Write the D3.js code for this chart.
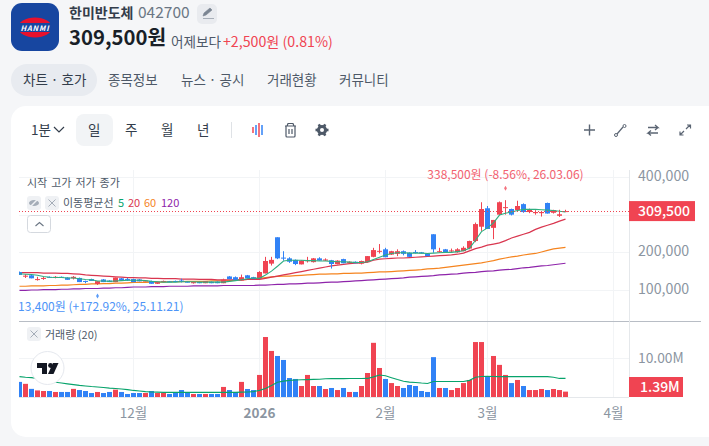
<!DOCTYPE html>
<html>
<head>
<meta charset="utf-8">
<script src="https://cdn.jsdelivr.net/npm/d3@7"></script>
<style>
  html, body { margin: 0; padding: 0; background: #f5f6f8; overflow: hidden; }
  text { font-family: "Noto Sans CJK KR", "Noto Sans", sans-serif; }
  .axis .domain, .axis line { display: none; }
</style>
</head>
<body>
<div id="svg-area"></div>
<script>
const width = 709;
const height = 446;

// trading days, the last ones are the empty room up to April
const dates = [
  '25.11.04','25.11.05','25.11.06','25.11.07','25.11.10','25.11.11','25.11.12','25.11.13','25.11.14','25.11.17',
  '25.11.18','25.11.19','25.11.20','25.11.21','25.11.24','25.11.25','25.11.26','25.11.27','25.11.28',
  '25.12.01','25.12.02','25.12.03','25.12.04','25.12.05','25.12.08','25.12.09','25.12.10','25.12.11','25.12.12',
  '25.12.15','25.12.16','25.12.17','25.12.18','25.12.19','25.12.22','25.12.23','25.12.24','25.12.26','25.12.29','25.12.30',
  '26.01.02','26.01.05','26.01.06','26.01.07','26.01.08','26.01.09','26.01.12','26.01.13','26.01.14','26.01.15','26.01.16',
  '26.01.19','26.01.20','26.01.21','26.01.22','26.01.23','26.01.26','26.01.27','26.01.28','26.01.29','26.01.30',
  '26.02.02','26.02.03','26.02.04','26.02.05','26.02.06','26.02.09','26.02.10','26.02.11','26.02.12','26.02.13',
  '26.02.19','26.02.20','26.02.23','26.02.24','26.02.25','26.02.26','26.02.27',
  '26.03.03','26.03.04','26.03.05','26.03.06','26.03.09','26.03.10','26.03.11','26.03.12','26.03.13',
  '26.03.16','26.03.17','26.03.18','26.03.19','26.03.20','26.03.23','26.03.24','26.03.25','26.03.26','26.03.27',
  '26.03.30','26.03.31','26.04.01'
];

// prices in thousand won
const opens = [147.7,137,139,128,131,135,133,135,133,131,132,124,129,116,128,125,121,131,129,129,
  128,124,124,116.5,122,123,124,125,122,118,121,118,122,122,118,136,134,125,139,134,
  129,144,170,240,186,184,180,168,177,174,184,178,179,169,182,172,175,170,174,188,
  202,208,194,196,203,199,201,200,196,248,201,208,203,200,203,210,230,268,317,265,
  300,319,315,312,328,307,304,304,331,305,297,308];
const highs = [149,142,140,135,135,136,137,136,134,137,133,125,130,124,129,126,133,132,132,130,
  129,126,125,122,125,124,125,130,123,121,122,124,123,123,130,137,136,141,140,135,
  150,188,188,240,203,187,181,179,188,185,187,184,180,179,183,176,176,178,190,212,
  222,212,204,208,205,200,206,201,197,248,212,209,210,211,216,231,279,333,323,286,
  335,338.5,316,337,330,316,312,308,332,313,313,313];
const lows = [140,132,131,125,127,133,131,132,127,128,121,118,124,113.4,121,121,121,125,124,121,
  123,123,116.5,116,121,121,121,120,120,117,118,118,118,118,118,129,127,125,131,129,
  129,144,165,182,178,172,166,168,173,173,178,177,157,168,171,171,171,168,173,187,
  197,187,193,190,192,188,197,197,190,199,199,200,199,199,203,208,227,257,262,235,
  299,300,298,309,305,304,300,295,303,303,294,307];
const closes = [140,138,131,129,132,134,135,133,127,135,121,123,124,123.5,121,121,133,125,125,121,
  123,125,116.5,122,124,121,122,122,120,121,118,124,118,118,127.5,129,127,134,131,129,
  147.7,177,180,184,184,175,169,178,179,184,178,181,169,178,171,175,171,177,190,206,
  204,187,203,203,196,188,199,197,190,208,203,200,205,208,212,230,275,315,262,286,
  333,320,300,323,307,315,307,307,303,312,301,309.5];

const ma5 = [143,142,141,139,136,134,133,133,132,132,130,128,127,124,124,123,124,125,126,126,
  126,125,123,122,121,121,121,122,122,122,121,121,121,121,121,123,125,127,130,132,
  131,140,150,163,177,179,179,179,178,178,177,177,176,175,175,174,173,173,175,181,
  187,193,197,199,199,198,198,198,197,198,199,200,200,202,204,211,232,255,265,278,
  299,304,307,311,314,314,314,313,312,311,309,307];
const ma20 = [146,146,146,146,145,145,145,144,144,143,142,140,139,138,137,136,135,134,133,133,
  132,132,131,131,130,130,130,129,129,129,128,128,128,127,127,127,127,127,128,128,
  128,131,134,137,140,143,146,149,152,155,158,161,164,166,168,170,171,172,174,179,
  182,183,184,185,185,186,187,188,189,190,191,192,193,195,198,204,210,214,219,222,
  225,231,238,243,248,253,261,267,272,277,283,288];
const ma60 = [110,110,111,111,111,112,112,113,113,114,115,115,116,116,117,117,118,118,119,120,
  120,120,121,121,121,122,122,122,123,123,123,123,124,124,124,125,126,127,128,130,
  131,133,135,136,137,137,138,139,140,141,142,142,143,143,144,144,145,145,146,147,
  148,148,149,150,151,152,153,154,156,157,158,160,162,164,166,168,170,172,175,178,
  182,185,188,190,193,195,197,201,205,209,211,213];
const ma120 = [99,99,100,100,101,101,101,102,102,103,103,104,104,104,105,105,106,106,107,108,
  108,108,109,109,109,110,110,110,110,111,111,111,111,111,112,112,112,112,112,112,
  113,113,114,115,115,116,116,117,118,118,119,120,121,121,122,123,124,125,126,127,
  128,129,130,131,132,134,135,136,137,138,140,141,142,143,145,146,147,149,150,151,
  153,154,155,157,159,160,162,164,165,167,169,171];

// traded volume in millions of shares
const volumes = [3.9,3.4,2.1,1.7,1.55,1.55,1.3,1.3,1.3,2.1,1.8,1.55,1.03,1.3,1.03,1.3,1.9,1.3,0.78,1.03,
  1.03,1.03,1.55,1.03,1.03,0.78,1.03,1.8,1.03,0.78,0.78,0.78,0.78,0.78,2.6,1.8,1.3,3.9,2.07,1.8,
  5.7,15.5,11.9,10.6,9.57,4.9,4.66,2.84,5.7,2.84,2.84,2.07,2.33,1.8,2.33,1.3,1.3,2.84,6.2,14,
  7.5,4.66,3.6,2.84,2.33,3.1,2.84,1.55,1.3,10.3,2.33,2.33,1.8,2.33,3.6,4.4,14.2,14.2,5.4,10.6,
  8.3,5.7,3.6,4.4,2.84,1.8,1.8,2.07,1.8,2.07,1.8,1.39];
const volumeMa = [5.26,5.1,5,4.8,4.4,4.2,3.8,3.6,3.4,3.2,3,2.84,2.7,2.6,2.45,2.3,2.2,2.07,1.9,1.7,
  1.55,1.38,1.3,1.25,1.2,1.2,1.2,1.2,1.2,1.2,1.2,1.2,1.2,1.2,1.2,1.2,1.2,1.25,1.3,1.4,
  1.72,2.2,3,3.8,4.1,4.3,4.4,4.45,4.5,4.55,4.6,4.7,4.74,4.75,4.76,4.77,4.78,4.79,4.8,5.2,
  5.7,5.5,5,4.5,4.05,3.85,3.75,3.6,3.5,4,4,4,4,4,4,4.3,5.1,5.3,5.35,5.3,
  5.26,5.26,5.26,5.26,5.26,5.26,5.26,5.26,5.26,5.1,4.8,4.8];

const priceTicks = [400, 300, 200, 100];
const priceLabels = [400, 200, 100];
const volumeTicks = [10];
const monthTicks = ['25.12.01', '26.01.02', '26.02.02', '26.03.03', '26.04.01'];
const monthLabels = ['12월', '2026', '2월', '3월', '4월'];
const lastPrice = 309.5;
const lastVolume = 1.39;
const highMark = {date: '26.03.06', value: 338.5};
const lowMark = {date: '25.11.21', value: 113.4};

const pane = {left: 19, right: 629, top: 170, split: 321, bottom: 397};
const red = '#f04452';
const blue = '#3182f6';
const maColors = ['#2fae80', '#d9364f', '#f5841f', '#8e24aa'];

const x = d3.scaleBand()
  .domain(dates)
  .range([16.5, 616.5])
  .paddingInner(1 / 6)
  .paddingOuter(1 / 12);

const y = d3.scaleLinear().domain([400, 100]).range([177, 290]);
const yVol = d3.scaleLinear().domain([0, 10]).range([pane.bottom, 358.3]);

const svg = d3.select('#svg-area').append('svg')
  .attr('width', width).attr('height', height)
  .style('display', 'block');

const label = (t, px, py, size, color, weight) => svg.append('text')
  .attr('x', px).attr('y', py)
  .attr('font-size', size)
  .attr('fill', color)
  .attr('font-weight', weight || 400)
  .text(t);

// header
const logo = svg.append('g');
logo.append('rect').attr('x', 11).attr('y', 3).attr('width', 48).attr('height', 48).attr('rx', 11).attr('fill', '#1746a0');
logo.append('ellipse').attr('cx', 35).attr('cy', 27.5).attr('rx', 17).attr('ry', 10).attr('fill', '#e8112d');
logo.append('rect').attr('x', 18).attr('y', 23).attr('width', 34).attr('height', 9).attr('fill', '#1746a0');
logo.append('text').attr('x', 35).attr('y', 31).attr('text-anchor', 'middle').attr('font-size', 7.5)
  .attr('font-weight', 700).attr('font-style', 'italic').attr('letter-spacing', 0.8).attr('fill', '#fff').text('HANMI');

label('한미반도체', 69, 18, 14, '#333d4b', 700);
label('042700', 138, 18, 15.5, '#6b7684');
svg.append('rect').attr('x', 197).attr('y', 4).attr('width', 20).attr('height', 20).attr('rx', 5).attr('fill', '#e9ebef');
svg.append('path').attr('d', 'M203 16 l1 -3 l6 -5 l2 2 l-6 5 z M203 18.5 h11').attr('fill', '#7b8592').attr('stroke', '#7b8592').attr('stroke-width', 0.6);
label('309,500원', 69, 45, 20.3, '#191f28', 700);
label('어제보다', 171, 47, 13.6, '#4e5968');
label('+2,500원 (0.81%)', 223, 47, 14.2, red);

// tabs
svg.append('rect').attr('x', 11).attr('y', 64).attr('width', 86).attr('height', 32).attr('rx', 16).attr('fill', '#e8ebf0');
label('차트 · 호가', 23, 85, 13.5, '#333d4b');
label('종목정보', 108, 85, 13.5, '#4e5968');
label('뉴스 · 공시', 181, 85, 13.5, '#4e5968');
label('거래현황', 267, 85, 13.5, '#4e5968');
label('커뮤니티', 339, 85, 13.5, '#4e5968');

// card
svg.append('rect').attr('x', 11).attr('y', 106).attr('width', 720).attr('height', 331).attr('rx', 15).attr('fill', '#fff');

// toolbar
label('1분', 31, 135, 13.5, '#333d4b');
svg.append('path').attr('d', 'M54 127 l5 5 l5 -5').attr('fill', 'none').attr('stroke', '#333d4b').attr('stroke-width', 1.2);
svg.append('rect').attr('x', 76).attr('y', 114).attr('width', 37).attr('height', 32).attr('rx', 8).attr('fill', '#f2f4f6');
label('일', 88, 135, 13.5, '#333d4b');
label('주', 125, 135, 13.5, '#333d4b');
label('월', 161, 135, 13.5, '#333d4b');
label('년', 197, 135, 13.5, '#333d4b');
svg.append('line').attr('x1', 231.5).attr('x2', 231.5).attr('y1', 122).attr('y2', 138).attr('stroke', '#dfe2e6');

const iconBars = [[253, 127, 133, red], [256, 125, 135, blue], [259, 123, 137, red], [262, 125, 135, blue]];
iconBars.forEach(b => svg.append('line').attr('x1', b[0]).attr('x2', b[0]).attr('y1', b[1]).attr('y2', b[2])
  .attr('stroke', b[3]).attr('stroke-width', 1.5));
svg.append('path').attr('d', 'M285 126 h11 M287 126 l1 -2.5 h5 l1 2.5 M286 126 v10 q0 1 1 1 h7 q1 0 1 -1 v-10 M289 129 v5 M292 129 v5')
  .attr('fill', 'none').attr('stroke', '#4e5968').attr('stroke-width', 1.2);
svg.append('circle').attr('cx', 322).attr('cy', 130).attr('r', 3.6).attr('fill', 'none').attr('stroke', '#4e5968').attr('stroke-width', 3);
[0, 60, 120].forEach(a => svg.append('rect').attr('x', 315.5).attr('y', 128.7).attr('width', 13).attr('height', 2.6)
  .attr('transform', `rotate(${a} 322 130)`).attr('fill', '#4e5968'));
svg.append('circle').attr('cx', 322).attr('cy', 130).attr('r', 2).attr('fill', '#fff');

const toolStroke = '#5b6573';
svg.append('path').attr('d', 'M584 130 h11 M589.5 124.5 v11').attr('fill', 'none').attr('stroke', toolStroke).attr('stroke-width', 1.4);
svg.append('path').attr('d', 'M617 134 l6 -7').attr('fill', 'none').attr('stroke', toolStroke).attr('stroke-width', 1.2);
svg.append('circle').attr('cx', 616).attr('cy', 135).attr('r', 1.5).attr('fill', '#fff').attr('stroke', toolStroke);
svg.append('circle').attr('cx', 624.5).attr('cy', 126).attr('r', 1.5).attr('fill', '#fff').attr('stroke', toolStroke);
svg.append('path').attr('d', 'M648 127.5 h10 l-3 -2.5 M658 127.5 l-3 2.5 M658 133 h-10 l3 -2.5 M648 133 l3 2.5')
  .attr('fill', 'none').attr('stroke', toolStroke).attr('stroke-width', 1.3);
svg.append('path').attr('d', 'M686 129 l4 -4 M687 125 h3.5 v3.5 M684 131 l-4 4 M680 131.5 v3.5 h3.5')
  .attr('fill', 'none').attr('stroke', toolStroke).attr('stroke-width', 1.2);

// grid
const clip = svg.append('clipPath').attr('id', 'pane-clip');
clip.append('rect').attr('x', pane.left).attr('y', pane.top)
  .attr('width', pane.right - pane.left).attr('height', pane.bottom - pane.top);

const grid = svg.append('g').attr('stroke', '#f2f4f6').attr('stroke-width', 1);
grid.selectAll('.h').data(priceTicks).enter().append('line')
  .attr('x1', pane.left).attr('x2', pane.right)
  .attr('y1', d => Math.round(y(d)) + 0.5).attr('y2', d => Math.round(y(d)) + 0.5);
grid.selectAll('.hv').data(volumeTicks).enter().append('line')
  .attr('x1', pane.left).attr('x2', pane.right)
  .attr('y1', d => Math.round(yVol(d)) + 0.5).attr('y2', d => Math.round(yVol(d)) + 0.5);
grid.selectAll('.v').data(monthTicks).enter().append('line')
  .attr('y1', pane.top).attr('y2', pane.bottom)
  .attr('x1', d => x(d) + x.bandwidth() / 2).attr('x2', d => x(d) + x.bandwidth() / 2);

svg.append('line').attr('x1', pane.left).attr('x2', 701).attr('y1', pane.split + 0.5).attr('y2', pane.split + 0.5).attr('stroke', '#b8bdc5');
svg.append('line').attr('x1', pane.right + 0.5).attr('x2', pane.right + 0.5).attr('y1', pane.top).attr('y2', pane.bottom).attr('stroke', '#e5e8eb');
svg.append('line').attr('x1', pane.left).attr('x2', pane.right).attr('y1', pane.bottom + 0.5).attr('y2', pane.bottom + 0.5).attr('stroke', '#e5e8eb');

const plot = svg.append('g').attr('clip-path', 'url(#pane-clip)');
const shown = dates.slice(0, closes.length);
const candleColor = i => closes[i] >= opens[i] ? red : blue;

// moving averages under the candles
const priceLine = d3.line().x((d, i) => x(dates[i]) + x.bandwidth() / 2).y(d => y(d));
[ma120, ma60, ma20].forEach((s, k) => plot.append('path')
  .attr('d', priceLine(s))
  .attr('fill', 'none')
  .attr('stroke', maColors[3 - k])
  .attr('stroke-width', 1.2));

// wicks and bodies
plot.append('g').selectAll('rect').data(shown).enter().append('rect')
  .attr('x', d => x(d) + 2)
  .attr('width', 1)
  .attr('y', (d, i) => y(highs[i]))
  .attr('height', (d, i) => y(lows[i]) - y(highs[i]))
  .attr('fill', (d, i) => candleColor(i));

plot.append('g').selectAll('rect').data(shown).enter().append('rect')
  .attr('x', d => x(d))
  .attr('width', x.bandwidth())
  .attr('y', (d, i) => y(Math.max(opens[i], closes[i])))
  .attr('height', (d, i) => Math.max(1, Math.abs(y(opens[i]) - y(closes[i]))))
  .attr('fill', (d, i) => candleColor(i));

plot.append('path').attr('d', priceLine(ma5)).attr('fill', 'none').attr('stroke', maColors[0]).attr('stroke-width', 1.1);

// last price line
svg.append('line').attr('x1', pane.left).attr('x2', pane.right)
  .attr('y1', Math.round(y(lastPrice)) + 0.5).attr('y2', Math.round(y(lastPrice)) + 0.5)
  .attr('stroke', red).attr('stroke-dasharray', '1 2');

// volume pane
plot.append('g').selectAll('rect').data(shown).enter().append('rect')
  .attr('x', d => x(d))
  .attr('width', x.bandwidth())
  .attr('y', (d, i) => yVol(volumes[i]))
  .attr('height', (d, i) => yVol(0) - yVol(volumes[i]))
  .attr('fill', (d, i) => candleColor(i));

plot.append('path')
  .attr('d', d3.line().x((d, i) => x(dates[i]) + x.bandwidth() / 2).y(d => yVol(d))(volumeMa))
  .attr('fill', 'none').attr('stroke', '#07a36b').attr('stroke-width', 1.1);

// axes
const xAxis = d3.axisBottom(x).tickValues(monthTicks).tickSize(0).tickPadding(11)
  .tickFormat(d => monthLabels[monthTicks.indexOf(d)]);
svg.append('g').attr('class', 'axis').attr('transform', `translate(0, ${pane.bottom})`).call(xAxis)
  .call(g => g.selectAll('text').attr('font-size', 13.5).attr('fill', '#8b95a1')
    .attr('font-family', '"Noto Sans CJK KR"')
    .attr('font-weight', d => d === '26.01.02' ? 700 : 400));

const yAxis = d3.axisRight(y).tickValues(priceLabels).tickSize(0).tickPadding(9)
  .tickFormat(d => d3.format(',')(d * 1000));
svg.append('g').attr('class', 'axis').attr('transform', `translate(${pane.right}, -1)`).call(yAxis)
  .call(g => g.selectAll('text').attr('font-size', 14.2).attr('fill', '#8b95a1').attr('font-family', '"Noto Sans CJK KR"'));

const volAxis = d3.axisRight(yVol).tickValues(volumeTicks).tickSize(0).tickPadding(9)
  .tickFormat(d => d3.format('.2f')(d) + 'M');
svg.append('g').attr('class', 'axis').attr('transform', `translate(${pane.right}, 0)`).call(volAxis)
  .call(g => g.selectAll('text').attr('font-size', 13.8).attr('fill', '#8b95a1').attr('font-family', '"Noto Sans CJK KR"'));

// price and volume tags
svg.append('rect').attr('x', pane.right).attr('y', y(lastPrice) - 10).attr('width', 66).attr('height', 20).attr('fill', red);
label(d3.format(',')(lastPrice * 1000), 638, y(lastPrice) + 5, 14, '#fff', 500);
svg.append('rect').attr('x', pane.right).attr('y', pane.bottom - 20).attr('width', 54).attr('height', 20).attr('fill', red);
label(lastVolume + 'M', 640, pane.bottom - 5, 14, '#fff', 500);

// high and low marks
const markCenter = d => x(d.date) + x.bandwidth() / 2;
svg.append('path').attr('d', d3.symbol(d3.symbolDiamond, 7)())
  .attr('transform', `translate(${markCenter(highMark)}, ${y(highMark.value) - 12})`).attr('fill', '#f4727e');
svg.append('text').attr('x', markCenter(highMark)).attr('y', y(highMark.value) - 21)
  .attr('text-anchor', 'middle').attr('font-size', 12).attr('fill', '#f2616f')
  .text('338,500원 (-8.56%, 26.03.06)');
svg.append('path').attr('d', d3.symbol(d3.symbolDiamond, 7)())
  .attr('transform', `translate(${markCenter(lowMark)}, ${y(lowMark.value) + 11})`).attr('fill', '#5a9cf8');
plot.append('text').attr('x', markCenter(lowMark)).attr('y', y(lowMark.value) + 26)
  .attr('text-anchor', 'middle').attr('font-size', 12).attr('fill', '#4d94f7')
  .text('113,400원 (+172.92%, 25.11.21)');

// legend
label('시작 고가 저가 종가', 27, 187, 11, '#4e5968').attr('word-spacing', 1.5);
const closeBox = (bx, by) => {
  svg.append('rect').attr('x', bx).attr('y', by).attr('width', 14).attr('height', 14).attr('rx', 3).attr('fill', '#eff1f4');
  svg.append('path').attr('d', `M${bx + 3.5} ${by + 3.5} l7 7 M${bx + 10.5} ${by + 3.5} l-7 7`).attr('stroke', '#a5adb8').attr('stroke-width', 1);
};
svg.append('rect').attr('x', 27).attr('y', 196).attr('width', 14).attr('height', 14).attr('rx', 3).attr('fill', '#eff1f4');
svg.append('ellipse').attr('cx', 34).attr('cy', 203).attr('rx', 5).attr('ry', 3).attr('fill', '#a5adb8');
svg.append('path').attr('d', 'M30 207 l8 -8').attr('stroke', '#eff1f4').attr('stroke-width', 1.5);
closeBox(45, 196);
label('이동평균선', 63, 207, 11, '#4e5968');
label('5', 118, 207, 11, '#07a36b');
label('20', 128, 207, 11, maColors[1]);
label('60', 144, 207, 11, maColors[2]);
label('120', 161, 207, 11, maColors[3]);
svg.append('rect').attr('x', 27.5).attr('y', 215.5).attr('width', 23).attr('height', 17).attr('rx', 3)
  .attr('fill', '#fff').attr('stroke', '#d5d9df');
svg.append('path').attr('d', 'M35.5 226 l4 -3.5 l4 3.5').attr('fill', 'none').attr('stroke', '#6b7684').attr('stroke-width', 1.1);

closeBox(27, 327);
label('거래량 (20)', 45, 339, 11, '#4e5968');

// chart library badge
svg.append('circle').attr('cx', 47.5).attr('cy', 368).attr('r', 16.5).attr('fill', '#fff').attr('stroke', '#e5e8ee').attr('stroke-width', 1);
svg.append('path').attr('d', 'M37 363 h10 v11 h-5 v-6 h-5 z').attr('fill', '#131722');
svg.append('circle').attr('cx', 50.5).attr('cy', 365.5).attr('r', 2.4).attr('fill', '#131722');
svg.append('path').attr('d', 'M53 363 h5.5 l-5 11 h-5.5 z').attr('fill', '#131722');
</script>
</body>
</html>
